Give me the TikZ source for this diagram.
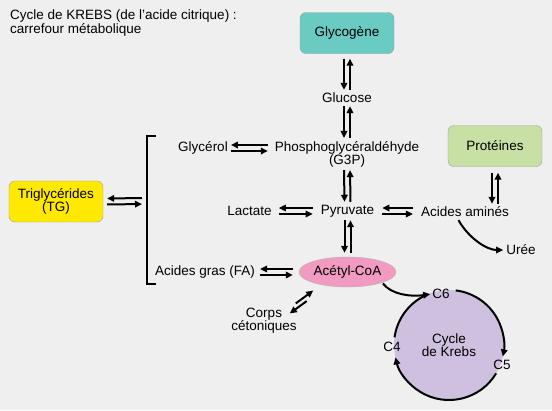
\documentclass[tikz,border=0pt]{standalone}
\usepackage{fontspec}
\setmainfont{Liberation Sans}
\usetikzlibrary{arrows.meta, positioning, shapes.geometric}

\definecolor{bgcol}{HTML}{EFEFEF}
\definecolor{glycocol}{HTML}{6ACBC3}
\definecolor{protcol}{HTML}{C8E0A4}
\definecolor{tgcol}{HTML}{FFE900}
\definecolor{acetylcol}{HTML}{F19AC2}
\definecolor{krebscol}{HTML}{CEC0DE}

\begin{document}
\begin{tikzpicture}[x=1pt, y=-1pt,
        font = \fontsize{13.5}{13}\selectfont,
        box/.style = {
            rectangle,
            draw=gray!75,
            rounded corners=6pt,
            minimum width=94pt,
            minimum height=41pt,
            align=center,
            inner sep=2pt
        },
        lbl/.style = {
            inner sep=2pt,
            align=center
        },
        rxn/.style = {
            line width=2pt,
            -{Triangle[length=7pt, width=6.5pt]},
            shorten >=1pt,
            shorten <=1pt
        },
        cyc/.style = {
            line width=2pt
        }  ]

        \path[fill=bgcol, use as bounding box] (0,0) rectangle (552,410);

        % title
        \node (title) [anchor=north west, align=left, inner sep=0pt, font=\fontsize{13.5}{12.5}\selectfont] at (10,9.5)
            {Cycle de KREBS (de l'acide citrique) :\\carrefour métabolique};

        % main axis
        \node (glycogene) [box, fill=glycocol] at (347,33) {Glycogène};
        \node (glucose) [lbl] at (347,98) {Glucose};
        \node (g3p) [lbl] at (347,154) {Phosphoglycéraldéhyde\\(G3P)};
        \node (pyruvate) [lbl] at (347.5,211) {Pyruvate};
        \node (acetyl) [ellipse, draw=gray!60, fill=acetylcol, minimum width=97pt, minimum height=30pt, inner sep=0pt] at (347.5,272) {Acétyl-CoA};

        % right side
        \node (proteines) [box, fill=protcol] at (495,146) {Protéines};
        \node (aa) [lbl] at (465,212) {Acides aminés};
        \node (uree) [lbl] at (521,250) {Urée};

        % left side
        \node (glycerol) [lbl] at (203,148) {Glycérol};
        \node (lactate) [lbl] at (249.5,211) {Lactate};
        \node (fa) [lbl] at (205,272) {Acides gras (FA)};
        \node (tg) [box, fill=tgcol] at (56,201.5) {Triglycérides\\(TG)};
        \node (corps) [lbl] at (264,321) {Corps\\cétoniques};

        % Krebs cycle
        \node (krebs) [circle, fill=krebscol, minimum size=110pt, inner sep=0pt, align=center, font=\fontsize{13.5}{11.5}\selectfont] at (449,345) {Cycle\\de Krebs};
        \node (c6) [lbl, inner sep=1pt] at (441,294) {C6};
        \node (c5) [lbl, inner sep=1pt] at (502,365) {C5};
        \node (c4) [lbl, inner sep=1pt] at (392,347) {C4};

        % bracket
        \draw[line width=2pt] (156,135.5) -| (147,284) -- (156,284);
        \coordinate (brk) at (147,201);

        \coordinate (g3pin) at (g3p.west |- glycerol.east);
        \coordinate (aain) at (aa.west |- pyruvate.east);
        \coordinate (aaout) at (proteines.south |- aa.north);
        \coordinate (ket1) at (307.5,300.5);
        \coordinate (ket2) at (289,314);
        \coordinate (ket3) at (295,304);
        \coordinate (ket4) at (314,290);

        % vertical pairs
        \draw[rxn, shorten <=5pt] ([xshift=-3pt]glycogene.south) -- ([xshift=-3pt]glucose.north);
        \draw[rxn, shorten >=5pt] ([xshift=3pt]glucose.north) -- ([xshift=3pt]glycogene.south);
        \draw[rxn] ([xshift=-3pt]glucose.south) -- ([xshift=-3pt]g3p.north);
        \draw[rxn] ([xshift=3pt]g3p.north) -- ([xshift=3pt]glucose.south);
        \draw[rxn] ([xshift=-3pt]g3p.south) -- ([xshift=-3pt]pyruvate.north);
        \draw[rxn] ([xshift=3pt]pyruvate.north) -- ([xshift=3pt]g3p.south);
        \draw[rxn, shorten >=4pt] ([xshift=-3pt]pyruvate.south) -- ([xshift=-3pt]acetyl.north);
        \draw[rxn, shorten <=4pt] ([xshift=3pt]acetyl.north) -- ([xshift=3pt]pyruvate.south);
        \draw[rxn, shorten <=6pt] ([xshift=-3pt]proteines.south) -- ([xshift=-3pt]aaout);
        \draw[rxn, shorten >=6pt] ([xshift=3pt]aaout) -- ([xshift=3pt]proteines.south);

        % horizontal pairs
        \draw[rxn, shorten <=5pt] ([yshift=3pt]g3pin) -- ([yshift=3pt]glycerol.east);
        \draw[rxn, shorten >=5pt] ([yshift=-3pt]glycerol.east) -- ([yshift=-3pt]g3pin);
        \draw[rxn, shorten <=6pt, shorten >=5pt] ([yshift=3pt]pyruvate.west) -- ([yshift=3pt]lactate.east);
        \draw[rxn, shorten <=5pt, shorten >=6pt] ([yshift=-3pt]lactate.east) -- ([yshift=-3pt]pyruvate.west);
        \draw[rxn, shorten <=6pt, shorten >=6pt] ([yshift=3pt]aain) -- ([yshift=3pt]pyruvate.east);
        \draw[rxn, shorten <=6pt, shorten >=6pt] ([yshift=-3pt]pyruvate.east) -- ([yshift=-3pt]aain);
        \draw[rxn, shorten <=6pt, shorten >=3pt] ([yshift=3pt]acetyl.west) -- ([yshift=3pt]fa.east);
        \draw[rxn, shorten <=3pt, shorten >=6pt] ([yshift=-3pt]fa.east) -- ([yshift=-3pt]acetyl.west);
        \draw[rxn, shorten <=5pt, shorten >=4pt] ([yshift=3pt]brk) -- ([yshift=3pt]tg.east);
        \draw[rxn, shorten <=4pt, shorten >=5pt] ([yshift=-3pt]tg.east) -- ([yshift=-3pt]brk);

        % ketone bodies
        \draw[rxn] (ket1) -- (ket2);
        \draw[rxn] (ket3) -- (ket4);

        % urea
        \draw[rxn] ([xshift=-7pt]aa.south) .. controls +(10,18) and +(-18,0) .. (uree.west);

        % entry into the cycle
        \draw[rxn] (acetyl.-17) .. controls +(9,12) and +(-20,3) .. (c6.west);
        \draw[cyc, -{Triangle[length=7pt, width=6.5pt]}] (krebs.center) ++(-83:55) arc[start angle=-83, end angle=12, radius=55];
        \draw[cyc, -{Triangle[length=7pt, width=6.5pt]}] (krebs.center) ++(31:55) arc[start angle=31, end angle=167, radius=55];
        \draw[cyc] (krebs.center) ++(188:55) arc[start angle=188, end angle=244, radius=55];
    \end{tikzpicture}
\end{document}
